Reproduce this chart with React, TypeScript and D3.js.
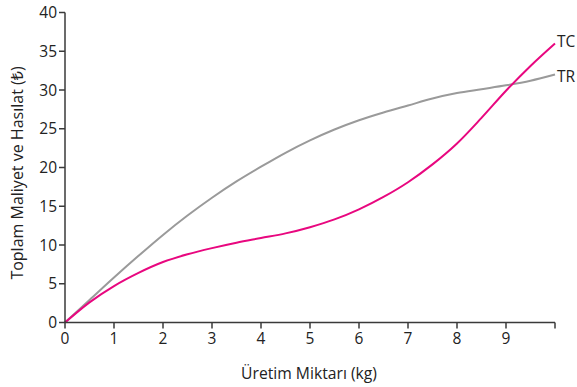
import React from "react";
import * as d3 from "d3";

const xs = [0, 0.5, 1, 1.5, 2, 2.5, 3, 3.5, 4, 4.5, 5, 5.5, 6, 6.5, 7, 7.5, 8, 8.5, 9, 9.5, 10];
const trValues = [0, 2.9, 5.8, 8.6, 11.3, 13.8, 16.1, 18.2, 20.1, 21.9, 23.5, 24.9, 26.1, 27.1, 28.0, 28.9, 29.6, 30.1, 30.6, 31.2, 32];
const tcValues = [0, 2.6, 4.7, 6.4, 7.8, 8.8, 9.6, 10.3, 10.9, 11.5, 12.3, 13.3, 14.6, 16.2, 18.1, 20.4, 23.1, 26.4, 29.9, 33.1, 36];
const xTicks = [0, 1, 2, 3, 4, 5, 6, 7, 8, 9, 10];
const xTickLabels = ["0", "1", "2", "3", "4", "5", "6", "7", "8", "9", ""];
const yTicks = [0, 5, 10, 15, 20, 25, 30, 35, 40];

const W = 577;
const H = 387;
const font = "'Open Sans', 'Noto Sans', sans-serif";
const axisColor = "#3a3a3a";

export default function App() {
  const x = d3.scaleLinear().domain([0, 10]).range([65, 555]);
  const y = d3.scaleLinear().domain([0, 40]).range([322.5, 12.5]);
  const line = d3
    .line<number>()
    .x((_, i) => x(xs[i]))
    .y((d) => y(d))
    .curve(d3.curveMonotoneX);

  return (
    <svg width={W} height={H} style={{ position: "absolute", left: 0, top: 0, background: "#fff" }} fontFamily={font}>
      <path d={line(trValues) || ""} fill="none" stroke="#9a9a9a" strokeWidth={2} />
      <path d={line(tcValues) || ""} fill="none" stroke="#e8077f" strokeWidth={2} />
      <line x1={x(0)} x2={x(0)} y1={y(40)} y2={y(0)} stroke={axisColor} strokeWidth={1.5} />
      <line x1={x(0)} x2={x(10)} y1={y(0)} y2={y(0)} stroke={axisColor} strokeWidth={1.5} />
      {yTicks.map((t) => (
        <g key={"y" + t}>
          <line x1={x(0) - 6} x2={x(0)} y1={y(t)} y2={y(t)} stroke={axisColor} strokeWidth={1.5} />
          <text x={x(0) - 8} y={y(t)} dy="0.36em" textAnchor="end" fontSize={15.5} fill="#222">
            {t}
          </text>
        </g>
      ))}
      {xTicks.map((t, i) => (
        <g key={"x" + t}>
          <line x1={x(t)} x2={x(t)} y1={y(0)} y2={y(0) + 6} stroke={axisColor} strokeWidth={1.5} />
          <text x={x(t)} y={344} textAnchor="middle" fontSize={15.5} fill="#222">
            {xTickLabels[i]}
          </text>
        </g>
      ))}
      <text x={309} y={379} textAnchor="middle" fontSize={15.7} fill="#222">
        Üretim Miktarı (kg)
      </text>
      <text transform={`translate(23,173) rotate(-90)`} textAnchor="middle" fontSize={16} fill="#222">
        Toplam Maliyet ve Hasılat (₺)
      </text>
      <text x={557} y={47} fontSize={15.5} fill="#222">TC</text>
      <text x={557} y={82} fontSize={15.5} fill="#222">TR</text>
    </svg>
  );
}
